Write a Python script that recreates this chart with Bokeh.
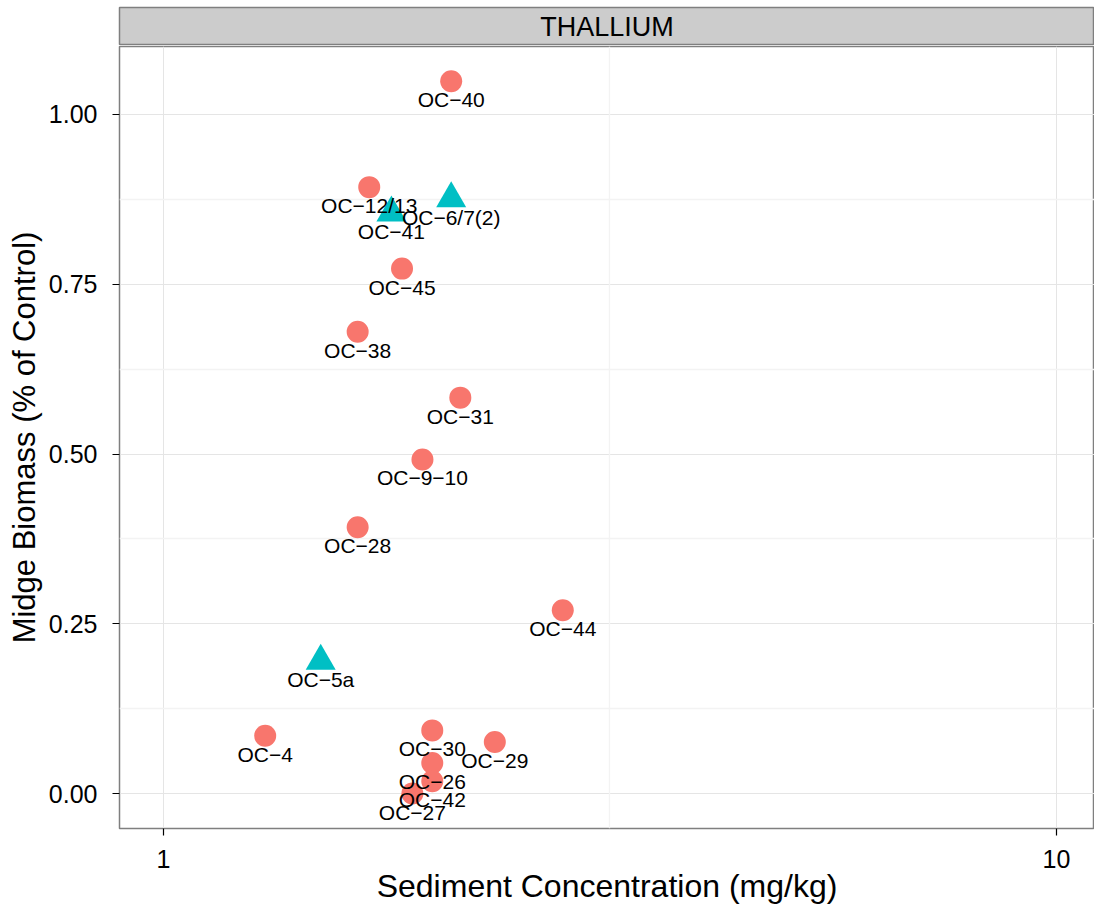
from bokeh.plotting import figure
from bokeh.models import Range1d, FixedTicker, Grid, BasicTickFormatter, PrintfTickFormatter, ColumnDataSource, FactorRange, CDSView, GroupFilter
from bokeh.layouts import column
from bokeh.core.properties import value
from bokeh.embed import file_html
from bokeh.resources import INLINE

# ---------------- data ----------------
panel = ["THALLIUM"]
site = ["OC\u221240", "OC\u221212/13", "OC\u22126/7(2)", "OC\u221241", "OC\u221245", "OC\u221238",
        "OC\u221231", "OC\u22129\u221210", "OC\u221228", "OC\u221244", "OC\u22125a", "OC\u22124",
        "OC\u221230", "OC\u221229", "OC\u221226", "OC\u221242", "OC\u221227"]
conc = [2.10, 1.70, 2.10, 1.80, 1.85, 1.65,
        2.15, 1.95, 1.65, 2.80, 1.50, 1.30,
        2.00, 2.35, 2.00, 2.00, 1.90]
biomass = [1.049, 0.893, 0.876, 0.855, 0.773, 0.680,
           0.583, 0.492, 0.392, 0.270, 0.195, 0.085,
           0.093, 0.076, 0.045, 0.018, 0.000]
group = ["A", "A", "B", "B", "A", "A",
         "A", "A", "A", "A", "B", "A",
         "A", "A", "A", "A", "A"]

x_ticks = [1, 10]
x_minor = [3.1623]
y_ticks = [0.0, 0.25, 0.50, 0.75, 1.00]
y_minor = [0.125, 0.375, 0.625, 0.875]

FONT = "Liberation Sans"

src = ColumnDataSource(dict(site=site, conc=conc, biomass=biomass, group=group))

# ---------------- strip ----------------
s = figure(frame_width=975, frame_height=38,
           x_range=FactorRange(factors=panel), y_range=FactorRange(factors=panel),
           min_border_left=119, min_border_right=0, min_border_top=7, min_border_bottom=0,
           toolbar_location=None, output_backend="svg")
s.axis.visible = False
s.grid.visible = False
s.background_fill_color = "#cccccc"
s.border_fill_color = "white"
s.outline_line_color = "#7f7f7f"
s.outline_line_width = 1.5
s.text(x=panel, y=panel, text=panel, text_font=value(FONT), text_font_size="27px",
       text_align="center", text_baseline="middle", text_color="black")

# ---------------- main panel ----------------
p = figure(frame_width=975, frame_height=782, x_axis_type="log",
           x_range=Range1d(0.8929, 11.03), y_range=Range1d(-0.0515, 1.1001),
           min_border_left=119, min_border_right=0, min_border_top=1, min_border_bottom=0,
           toolbar_location=None, output_backend="svg")
p.background_fill_color = "white"
p.border_fill_color = "white"
p.outline_line_color = "#7f7f7f"
p.outline_line_width = 1.5

p.xaxis.ticker = FixedTicker(ticks=x_ticks, minor_ticks=[])
p.yaxis.ticker = FixedTicker(ticks=y_ticks, minor_ticks=[])
p.xaxis.formatter = BasicTickFormatter()
p.yaxis.formatter = PrintfTickFormatter(format="%.2f")

p.xgrid.grid_line_color = "#e5e5e5"
p.ygrid.grid_line_color = "#e5e5e5"
p.xgrid.grid_line_width = 1
p.ygrid.grid_line_width = 1
p.add_layout(Grid(dimension=0, ticker=FixedTicker(ticks=x_minor), grid_line_color="#f3f3f3", grid_line_width=1.3))
p.add_layout(Grid(dimension=1, ticker=FixedTicker(ticks=y_minor), grid_line_color="#f3f3f3", grid_line_width=1.3))

for ax in (p.xaxis, p.yaxis):
    ax.axis_line_color = None
    ax.major_tick_out = 7
    ax.major_tick_in = 0
    ax.minor_tick_out = 0
    ax.minor_tick_in = 0
    ax.major_tick_line_color = "black"
    ax.major_tick_line_width = 1.2
    ax.major_label_text_font = FONT
    ax.major_label_text_font_size = "25px"
    ax.major_label_text_color = "black"
    ax.axis_label_text_font = FONT
    ax.axis_label_text_font_style = "normal"
    ax.axis_label_text_color = "black"

p.xaxis.major_label_standoff = 14
p.yaxis.major_label_standoff = 15
p.xaxis.axis_label_text_font_size = "32px"
p.yaxis.axis_label_text_font_size = "31px"
p.xaxis.axis_label = "Sediment Concentration (mg/kg)"
p.yaxis.axis_label = "Midge Biomass (% of Control)"
p.xaxis.axis_label_standoff = -3
p.yaxis.axis_label_standoff = 4

view_a = CDSView(filter=GroupFilter(column_name="group", group="A"))
view_b = CDSView(filter=GroupFilter(column_name="group", group="B"))
p.scatter(x="conc", y="biomass", source=src, view=view_a, size=22, marker="circle",
          fill_color="#F8766D", line_color=None)
p.scatter(x="conc", y="biomass", source=src, view=view_b, size=30, marker="triangle",
          fill_color="#00BFC4", line_color=None)

p.text(x="conc", y="biomass", text="site", source=src, text_font=value(FONT),
       text_font_size="21px", text_align="center", text_baseline="middle",
       y_offset=18.5, text_color="black")

layout = column(s, p, spacing=0)
open("out.html", "w").write(file_html(layout, INLINE))
